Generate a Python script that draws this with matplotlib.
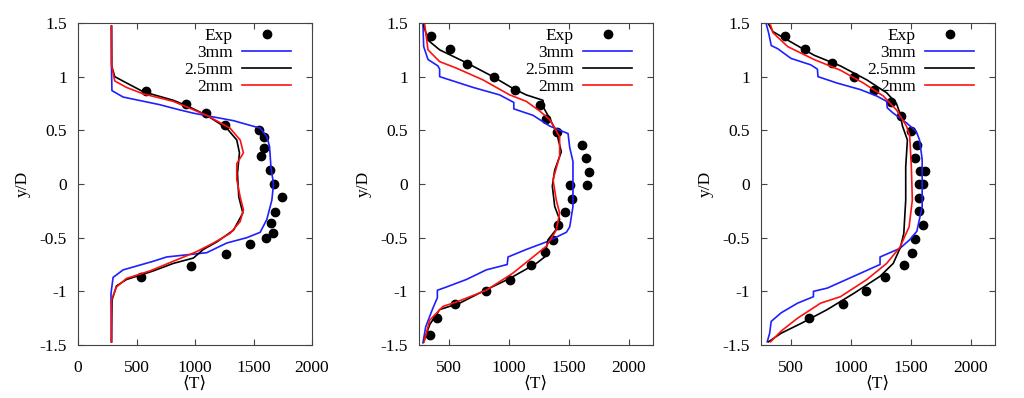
# Mean temperature profiles, three stations, three grid sizes vs experiment
import matplotlib
matplotlib.use('Agg')
import matplotlib.pyplot as plt
from matplotlib.ticker import FormatStrFormatter

# ---- station 1 ----
exp_T_1 = [580, 923, 1094, 1260, 1543, 1591, 1591, 1563, 1643, 1677, 1746, 1683, 1651, 1666, 1606, 1471, 1266, 966, 537]
exp_y_1 = [0.87, 0.75, 0.66, 0.55, 0.50, 0.44, 0.34, 0.26, 0.13, 0.0, -0.12, -0.26, -0.36, -0.46, -0.50, -0.56, -0.65, -0.76, -0.87]
T_3mm_1 = [286, 286, 290, 386, 694, 871, 986, 1329, 1557, 1614, 1637, 1649, 1671, 1657, 1614, 1557, 1443, 1271, 1100, 929, 757, 643, 386, 300, 282, 286]
y_3mm_1 = [1.47, 1.10, 0.87, 0.81, 0.74, 0.69, 0.66, 0.59, 0.52, 0.44, 0.35, 0.16, 0.0, -0.15, -0.33, -0.45, -0.50, -0.55, -0.64, -0.66, -0.68, -0.72, -0.80, -0.87, -1.02, -1.47]
T_25mm_1 = [286, 288, 314, 400, 557, 814, 929, 1100, 1271, 1357, 1380, 1363, 1374, 1409, 1329, 1186, 1071, 986, 814, 643, 414, 329, 291, 286]
y_25mm_1 = [1.47, 1.10, 1.0, 0.95, 0.86, 0.78, 0.73, 0.64, 0.52, 0.41, 0.29, 0.10, -0.12, -0.27, -0.43, -0.54, -0.61, -0.69, -0.74, -0.81, -0.89, -0.95, -1.08, -1.47]
T_2mm_1 = [286, 288, 314, 414, 557, 814, 1100, 1300, 1386, 1414, 1357, 1357, 1386, 1414, 1386, 1300, 1157, 1014, 814, 614, 414, 329, 286, 286]
y_2mm_1 = [1.47, 1.10, 0.96, 0.90, 0.84, 0.77, 0.64, 0.52, 0.41, 0.29, 0.19, 0.04, -0.12, -0.24, -0.35, -0.46, -0.55, -0.63, -0.72, -0.81, -0.88, -0.96, -1.08, -1.47]

# ---- station 2 ----
exp_T_2 = [353, 506, 653, 875, 1053, 1256, 1306, 1400, 1611, 1639, 1667, 1653, 1511, 1525, 1464, 1411, 1367, 1300, 1183, 1011, 811, 550, 403, 339]
exp_y_2 = [1.38, 1.26, 1.12, 1.0, 0.88, 0.74, 0.61, 0.48, 0.36, 0.24, 0.11, -0.01, -0.01, -0.14, -0.26, -0.38, -0.52, -0.63, -0.75, -0.89, -1.0, -1.12, -1.25, -1.41]
T_3mm_2 = [283, 289, 325, 408, 422, 422, 506, 700, 922, 1040, 1040, 1200, 1339, 1492, 1506, 1533, 1533, 1506, 1478, 1311, 1144, 992, 985, 811, 644, 478, 403, 403, 361, 306, 283]
y_3mm_2 = [1.49, 1.28, 1.16, 1.10, 1.07, 1.00, 0.97, 0.90, 0.83, 0.76, 0.70, 0.64, 0.54, 0.47, 0.34, 0.21, -0.21, -0.40, -0.45, -0.54, -0.61, -0.68, -0.75, -0.80, -0.89, -0.96, -0.99, -1.06, -1.17, -1.33, -1.48]
T_25mm_2 = [289, 325, 422, 644, 867, 1033, 1144, 1283, 1289, 1339, 1394, 1436, 1381, 1361, 1381, 1422, 1389, 1325, 1297, 1228, 1006, 783, 589, 422, 339, 289]
y_25mm_2 = [1.48, 1.34, 1.25, 1.13, 1.0, 0.89, 0.83, 0.78, 0.71, 0.61, 0.49, 0.30, 0.13, -0.02, -0.21, -0.33, -0.43, -0.52, -0.68, -0.74, -0.88, -1.0, -1.11, -1.17, -1.31, -1.47]
T_2mm_2 = [297, 325, 422, 561, 783, 1006, 1144, 1256, 1339, 1422, 1422, 1367, 1394, 1422, 1394, 1311, 1200, 1033, 811, 561, 450, 339, 292]
y_2mm_2 = [1.49, 1.25, 1.14, 1.08, 0.97, 0.83, 0.77, 0.68, 0.60, 0.44, 0.26, 0.04, -0.15, -0.27, -0.43, -0.58, -0.68, -0.83, -0.99, -1.10, -1.14, -1.27, -1.47]

# ---- station 3 ----
exp_T_3 = [453, 618, 838, 1022, 1195, 1332, 1420, 1503, 1549, 1530, 1577, 1618, 1563, 1604, 1563, 1563, 1599, 1536, 1508, 1440, 1283, 1126, 931, 646]
exp_y_3 = [1.38, 1.26, 1.13, 1.0, 0.88, 0.76, 0.63, 0.49, 0.36, 0.24, 0.12, 0.12, 0.0, 0.0, -0.13, -0.25, -0.38, -0.51, -0.64, -0.75, -0.87, -1.0, -1.12, -1.25]
T_3mm_3 = [294, 313, 330, 335, 390, 500, 665, 720, 725, 885, 1077, 1214, 1297, 1302, 1352, 1462, 1544, 1571, 1593, 1593, 1549, 1489, 1407, 1242, 1242, 1022, 802, 687, 687, 555, 418, 335, 322, 302]
y_3mm_3 = [1.49, 1.41, 1.32, 1.29, 1.26, 1.17, 1.11, 1.07, 1.00, 0.94, 0.88, 0.82, 0.77, 0.71, 0.66, 0.57, 0.49, 0.41, 0.23, -0.21, -0.44, -0.52, -0.60, -0.68, -0.75, -0.86, -0.97, -1.0, -1.05, -1.11, -1.20, -1.28, -1.39, -1.47]
T_25mm_3 = [313, 349, 473, 692, 912, 1132, 1297, 1379, 1407, 1429, 1470, 1456, 1456, 1440, 1412, 1352, 1242, 1022, 802, 582, 418, 313]
y_25mm_3 = [1.49, 1.42, 1.34, 1.20, 1.10, 0.97, 0.85, 0.75, 0.66, 0.54, 0.41, 0.16, -0.15, -0.46, -0.59, -0.74, -0.86, -1.02, -1.17, -1.30, -1.39, -1.47]
T_2mm_3 = [330, 349, 473, 692, 912, 1104, 1269, 1379, 1462, 1489, 1503, 1511, 1484, 1407, 1297, 1132, 912, 747, 555, 418, 330]
y_2mm_3 = [1.48, 1.41, 1.28, 1.16, 1.06, 0.94, 0.82, 0.69, 0.54, 0.45, 0.16, -0.15, -0.40, -0.59, -0.74, -0.89, -1.05, -1.11, -1.25, -1.37, -1.47]

panels = [
    (exp_T_1, exp_y_1, T_3mm_1, y_3mm_1, T_25mm_1, y_25mm_1, T_2mm_1, y_2mm_1, (0, 2000)),
    (exp_T_2, exp_y_2, T_3mm_2, y_3mm_2, T_25mm_2, y_25mm_2, T_2mm_2, y_2mm_2, (250, 2200)),
    (exp_T_3, exp_y_3, T_3mm_3, y_3mm_3, T_25mm_3, y_25mm_3, T_2mm_3, y_2mm_3, (250, 2200)),
]

plt.rcParams['font.family'] = ['Liberation Serif', 'DejaVu Serif', 'DejaVu Sans']
plt.rcParams['font.size'] = 12.5
plt.rcParams['axes.unicode_minus'] = False

fig = plt.figure(figsize=(10.24, 3.98), dpi=100)
lefts = [78, 419, 761]   # pixel left edges of each panel
W, H = 1024.0, 398.0

for i, (eT, ey, T3, y3, T25, y25, T2, y2, xl) in enumerate(panels):
    ax = fig.add_axes([lefts[i] / W, 1 - 345 / H, 234 / W, 322 / H])
    ax.plot(eT, ey, 'o', color='black', markersize=6, label='Exp')
    ax.plot(T3, y3, color='#1f1fff', lw=1.2, label='3mm')
    ax.plot(T25, y25, color='black', lw=1.2, label='2.5mm')
    ax.plot(T2, y2, color='#ff1010', lw=1.2, label='2mm')

    ax.set_xlim(xl)
    ax.set_ylim(-1.5, 1.5)
    if i == 0:
        ax.set_xticks([0, 500, 1000, 1500, 2000])
    else:
        ax.set_xticks([500, 1000, 1500, 2000])
    ax.set_yticks([-1.5, -1, -0.5, 0, 0.5, 1, 1.5])
    ax.yaxis.set_major_formatter(FormatStrFormatter('%g'))
    ax.tick_params(direction='in', top=True, right=True, length=4, width=0.8, color='#444444')
    ax.tick_params(axis='x', pad=11)
    ax.tick_params(axis='y', pad=8)
    for s in ax.spines.values():
        s.set_color('#444444')
        s.set_linewidth(0.8)

    ax.set_xlabel('⟨T⟩', labelpad=0)
    ax.set_ylabel('y/D', labelpad=6)

    ax.legend(loc='upper right', bbox_to_anchor=(1 - 21 / 234, 1 - 5 / 322), frameon=False,
              markerfirst=False, numpoints=1, handlelength=2.8, handletextpad=0.55,
              labelspacing=0.05, borderaxespad=0, borderpad=0)

fig.savefig('out.png', dpi=100)
